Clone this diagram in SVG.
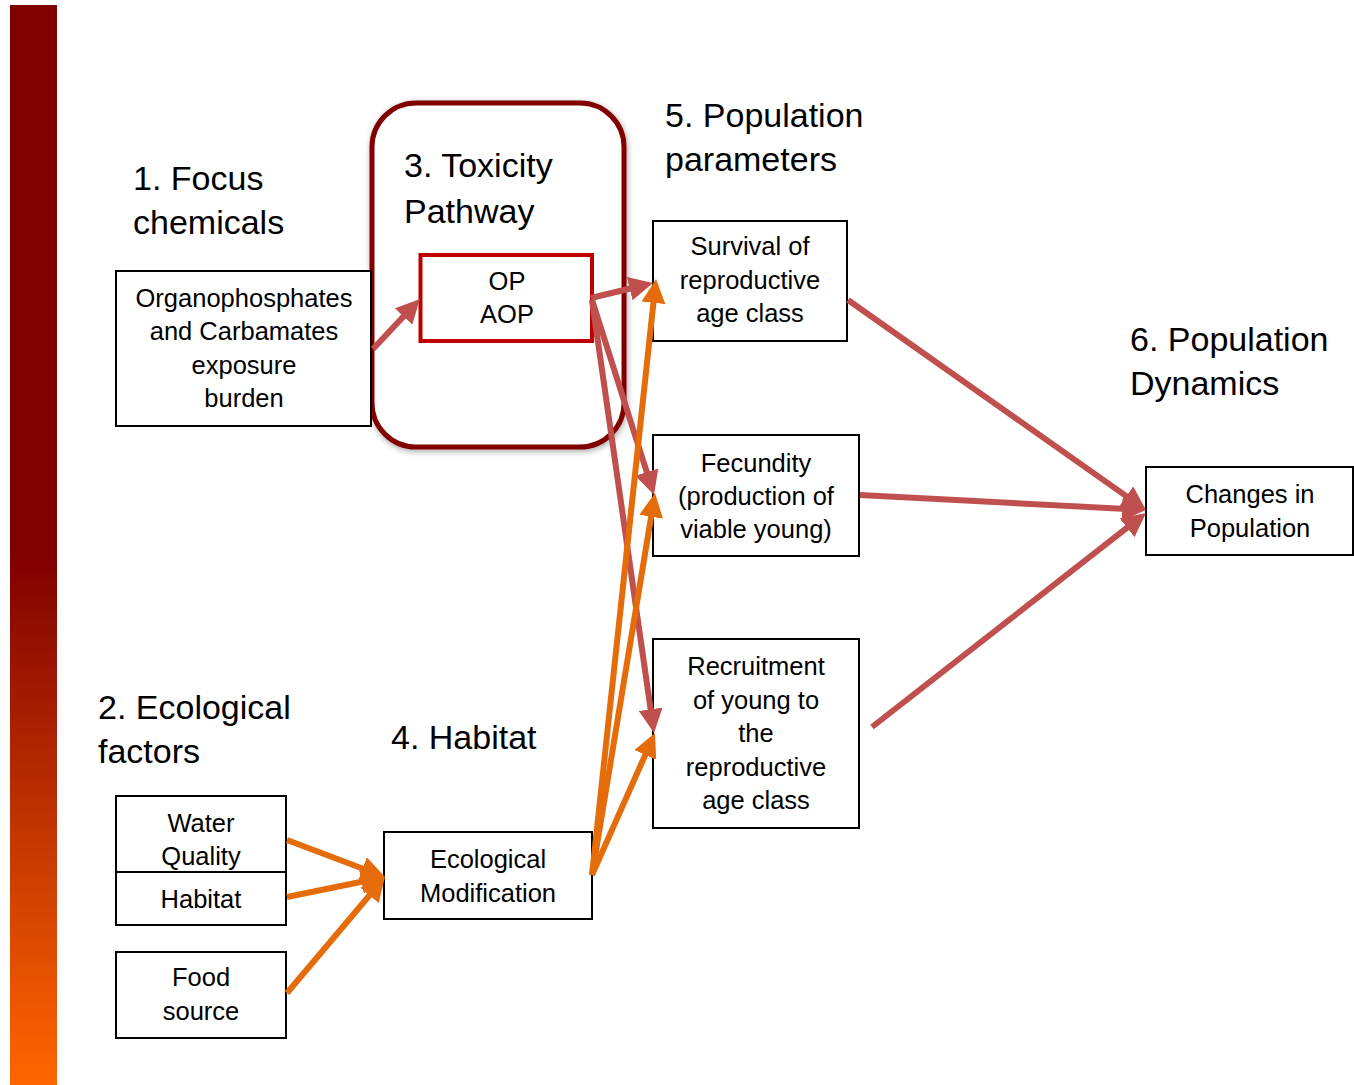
<svg xmlns="http://www.w3.org/2000/svg" width="1354" height="1085" viewBox="0 0 1354 1085">
  <defs>
    <linearGradient id="barGrad" gradientUnits="userSpaceOnUse" x1="0" y1="5" x2="0" y2="1085">
      <stop offset="0" stop-color="#800000"/>
      <stop offset="0.51" stop-color="#800000"/>
      <stop offset="1" stop-color="#ff6600"/>
    </linearGradient>
    <filter id="softShadow" x="-10%" y="-10%" width="120%" height="120%">
      <feGaussianBlur in="SourceAlpha" stdDeviation="3"/>
      <feOffset dx="1" dy="2" result="blur"/>
      <feComponentTransfer><feFuncA type="linear" slope="0.35"/></feComponentTransfer>
      <feMerge><feMergeNode/><feMergeNode in="SourceGraphic"/></feMerge>
    </filter>
    <marker id="headRed" viewBox="0 0 10 10" refX="3.75" refY="5" markerWidth="4" markerHeight="4" orient="auto" markerUnits="strokeWidth">
      <path d="M0,0 L10,5 L0,10 z" fill="#c0504d"/>
    </marker>
    <marker id="headOrange" viewBox="0 0 10 10" refX="3.75" refY="5" markerWidth="4" markerHeight="4" orient="auto" markerUnits="strokeWidth">
      <path d="M0,0 L10,5 L0,10 z" fill="#e46c0a"/>
    </marker>
  </defs>
  <style>
    text { font-family: "Liberation Sans", Arial, sans-serif; fill: #000; }
    .title { font-size: 34px; }
    .label { font-size: 25.5px; text-anchor: middle; }
    .box { fill: #fff; stroke: #000; stroke-width: 2; }
    .red { stroke: #c0504d; stroke-width: 6; fill: none; marker-end: url(#headRed); }
    .orange { stroke: #e46c0a; stroke-width: 6; fill: none; marker-end: url(#headOrange); }
  </style>

  <!-- side bar -->
  <rect x="10" y="5" width="47" height="1080" fill="url(#barGrad)"/>

  <!-- section headings -->
  <g id="headings">
    <text class="title" x="133" y="190">1. Focus</text>
    <text class="title" x="133" y="234">chemicals</text>
    <text class="title" x="665" y="127">5. Population</text>
    <text class="title" x="665" y="171">parameters</text>
    <text class="title" x="1130" y="351">6. Population</text>
    <text class="title" x="1130" y="395">Dynamics</text>
    <text class="title" x="98" y="719">2. Ecological</text>
    <text class="title" x="98" y="763">factors</text>
    <text class="title" x="391" y="749">4. Habitat</text>
  </g>

  <!-- 3. Toxicity pathway container -->
  <g id="toxicity-pathway">
    <rect x="372" y="103" width="252" height="344" rx="44" ry="44" fill="#fff" stroke="#800000" stroke-width="5" filter="url(#softShadow)"/>
    <text class="title" x="404" y="177">3. Toxicity</text>
    <text class="title" x="404" y="223">Pathway</text>
  </g>

  <g id="op-aop">
    <rect x="420.5" y="255" width="171.5" height="86" fill="#fff" stroke="#c00000" stroke-width="4"/>
    <text class="label" x="507" y="290">OP</text>
    <text class="label" x="507" y="323">AOP</text>
  </g>

  <g id="focus-chemicals">
    <rect class="box" x="116" y="271" width="255" height="155"/>
    <text class="label" x="244" y="307">Organophosphates</text>
    <text class="label" x="244" y="340">and Carbamates</text>
    <text class="label" x="244" y="373.5">exposure</text>
    <text class="label" x="244" y="407">burden</text>
  </g>

  <g id="survival">
    <rect class="box" x="653" y="221" width="194" height="120"/>
    <text class="label" x="750" y="255">Survival of</text>
    <text class="label" x="750" y="288.5">reproductive</text>
    <text class="label" x="750" y="322">age class</text>
  </g>

  <g id="fecundity">
    <rect class="box" x="653" y="435" width="206" height="121"/>
    <text class="label" x="756" y="472">Fecundity</text>
    <text class="label" x="756" y="505">(production of</text>
    <text class="label" x="756" y="538">viable young)</text>
  </g>

  <g id="recruitment">
    <rect class="box" x="653" y="639" width="206" height="189"/>
    <text class="label" x="756" y="675">Recruitment</text>
    <text class="label" x="756" y="708.5">of young to</text>
    <text class="label" x="756" y="742">the</text>
    <text class="label" x="756" y="775.5">reproductive</text>
    <text class="label" x="756" y="809">age class</text>
  </g>

  <g id="population-change">
    <rect class="box" x="1146" y="467" width="207" height="88"/>
    <text class="label" x="1250" y="503">Changes in</text>
    <text class="label" x="1250" y="536.5">Population</text>
  </g>

  <g id="water-quality">
    <rect class="box" x="116" y="796" width="170" height="76"/>
    <text class="label" x="201" y="832">Water</text>
    <text class="label" x="201" y="865">Quality</text>
  </g>

  <g id="habitat">
    <rect class="box" x="116" y="872" width="170" height="53"/>
    <text class="label" x="201" y="908">Habitat</text>
  </g>

  <g id="food-source">
    <rect class="box" x="116" y="952" width="170" height="86"/>
    <text class="label" x="201" y="986">Food</text>
    <text class="label" x="201" y="1020">source</text>
  </g>

  <g id="ecological-modification">
    <rect class="box" x="384" y="832" width="208" height="87"/>
    <text class="label" x="488" y="868">Ecological</text>
    <text class="label" x="488" y="902">Modification</text>
  </g>

  <!-- connectors -->
  <g id="connectors">
    <line class="red" x1="373" y1="349" x2="409.7" y2="309.9"/>
    <line class="red" x1="591" y1="298" x2="638.4" y2="286.5"/>
    <line class="red" x1="592" y1="300" x2="649.5" y2="480.7"/>
    <line class="red" x1="592" y1="300" x2="651.9" y2="718.2"/>
    <line class="red" x1="848" y1="300" x2="1133.7" y2="501.4"/>
    <line class="red" x1="860" y1="495" x2="1131" y2="509.2"/>
    <line class="red" x1="872" y1="727" x2="1134.2" y2="522.2"/>

    <line class="orange" x1="287" y1="840" x2="371" y2="871.7"/>
    <line class="orange" x1="287" y1="897" x2="370.3" y2="880"/>
    <line class="orange" x1="287" y1="993" x2="375.3" y2="888.5"/>
    <line class="orange" x1="592" y1="875" x2="654.4" y2="293.9"/>
    <line class="orange" x1="592" y1="875" x2="652.6" y2="507.8"/>
    <line class="orange" x1="592" y1="875" x2="648.9" y2="746.7"/>
  </g>
</svg>
